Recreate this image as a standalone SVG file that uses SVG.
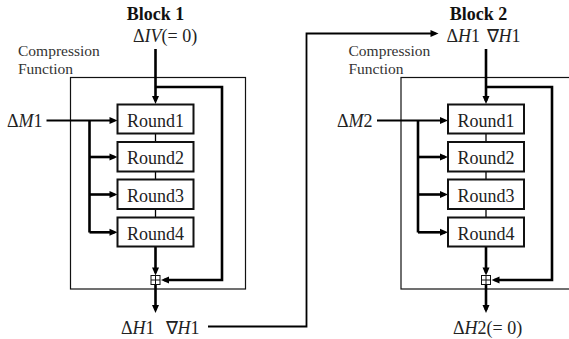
<svg xmlns="http://www.w3.org/2000/svg" width="569" height="339" viewBox="0 0 569 339">
<defs>
<marker id="ah" markerUnits="userSpaceOnUse" markerWidth="8" markerHeight="7" refX="5" refY="3.5" orient="auto" overflow="visible">
<path d="M0,0 L8,3.5 L0,7 z" fill="#000"/>
</marker>
</defs>
<style>
.t{font-size:18px;fill:#222;}
.b{font-size:18px;font-weight:bold;fill:#111;}
.cf{font-size:15.5px;fill:#333;}
.rt{font-size:18px;text-anchor:middle;fill:#222;}
.i{font-style:italic;}
.ob{fill:none;stroke:#111;stroke-width:1.2;}
.rb{fill:#fff;stroke:#111;stroke-width:2;}
.thick{fill:none;stroke:#000;stroke-width:2.6;}
.mid{fill:none;stroke:#000;stroke-width:1.8;}
.thin{fill:none;stroke:#000;stroke-width:1.3;}
.arr{marker-end:url(#ah);}
.add{fill:#fff;stroke:#111;stroke-width:1;}
</style>

<g id="labels" font-family="'Liberation Serif', 'Times New Roman', serif">
<text class="b" x="155.5" y="20" text-anchor="middle">Block 1</text>
<text class="t" x="133" y="42">Δ<tspan class="i">IV</tspan>(= 0)</text>
<text class="cf" x="18" y="56">Compression</text>
<text class="cf" x="18" y="74">Function</text>
<text class="t" x="7" y="127">Δ<tspan class="i">M</tspan>1</text>
<text class="t" x="121" y="334">Δ<tspan class="i">H</tspan>1</text>
<text class="t" x="165.5" y="334">∇<tspan class="i">H</tspan>1</text>

<text class="b" x="478.5" y="20" text-anchor="middle">Block 2</text>
<text class="t" x="446.5" y="42">Δ<tspan class="i">H</tspan>1</text>
<text class="t" x="486.5" y="42">∇<tspan class="i">H</tspan>1</text>
<text class="cf" x="348.5" y="56">Compression</text>
<text class="cf" x="348.5" y="74">Function</text>
<text class="t" x="337" y="127">Δ<tspan class="i">M</tspan>2</text>
<text class="t" x="453" y="334">Δ<tspan class="i">H</tspan>2(= 0)</text>
</g>

<g id="cf1">
<rect class="ob" x="70.5" y="77.5" width="175" height="211.5"/>
</g>
<g id="cf2">
<rect class="ob" x="401" y="77.5" width="175" height="211.5"/>
</g>

<g id="connectors">
<line class="thick arr" x1="155.5" y1="49" x2="155.5" y2="101"/>
<polyline class="thick arr" points="155.5,87 222,87 222,280 164,280"/>
<line class="thin" x1="155.5" y1="133.5" x2="155.5" y2="142"/>
<line class="thin" x1="155.5" y1="171.5" x2="155.5" y2="179.5"/>
<line class="thin" x1="155.5" y1="209" x2="155.5" y2="217.5"/>
<line class="thick arr" x1="155.5" y1="246.5" x2="155.5" y2="272.5"/>
<line class="thick arr" x1="155.5" y1="284.5" x2="155.5" y2="310"/>
<line class="mid arr" x1="46.5" y1="120.5" x2="114.5" y2="120.5"/>
<polyline class="thick" points="89.5,120.5 89.5,232.5"/>
<line class="thick arr" x1="89.5" y1="157" x2="114.5" y2="157"/>
<line class="thick arr" x1="89.5" y1="194.5" x2="114.5" y2="194.5"/>
<line class="thick arr" x1="89.5" y1="232.3" x2="114.5" y2="232.3"/>
<polyline class="mid arr" points="208,326.5 306.5,326.5 306.5,33.5 435.5,33.5"/>
<line class="thick arr" x1="486" y1="49" x2="486" y2="101"/>
<polyline class="thick arr" points="486,87 552,87 552,280 494.5,280"/>
<line class="thin" x1="486" y1="133.5" x2="486" y2="142"/>
<line class="thin" x1="486" y1="171.5" x2="486" y2="179.5"/>
<line class="thin" x1="486" y1="209" x2="486" y2="217.5"/>
<line class="thick arr" x1="486" y1="246.5" x2="486" y2="272.5"/>
<line class="thick arr" x1="486" y1="284.5" x2="486" y2="310"/>
<line class="mid arr" x1="377" y1="120.5" x2="445" y2="120.5"/>
<polyline class="thick" points="418,120.5 418,232.5"/>
<line class="thick arr" x1="418" y1="157" x2="445" y2="157"/>
<line class="thick arr" x1="418" y1="194.5" x2="445" y2="194.5"/>
<line class="thick arr" x1="418" y1="232.3" x2="445" y2="232.3"/>
</g>

<g font-family="'Liberation Serif', 'Times New Roman', serif">
<g id="b1-round1"><rect class="rb" x="117.5" y="104.5" width="76" height="29"/><text class="rt" x="155.5" y="126.5">Round1</text></g>
<g id="b1-round2"><rect class="rb" x="117.5" y="142" width="76" height="29.5"/><text class="rt" x="155.5" y="164">Round2</text></g>
<g id="b1-round3"><rect class="rb" x="117.5" y="179.5" width="76" height="29.5"/><text class="rt" x="155.5" y="201.5">Round3</text></g>
<g id="b1-round4"><rect class="rb" x="117.5" y="217.5" width="76" height="29"/><text class="rt" x="155.5" y="239.5">Round4</text></g>
<g id="b1-adder"><rect class="add" x="151" y="275.5" width="9" height="9"/><path class="add" d="M155.5,275.5 V284.5 M151,280 H160"/></g>

<g id="b2-round1"><rect class="rb" x="448" y="104.5" width="76" height="29"/><text class="rt" x="486" y="126.5">Round1</text></g>
<g id="b2-round2"><rect class="rb" x="448" y="142" width="76" height="29.5"/><text class="rt" x="486" y="164">Round2</text></g>
<g id="b2-round3"><rect class="rb" x="448" y="179.5" width="76" height="29.5"/><text class="rt" x="486" y="201.5">Round3</text></g>
<g id="b2-round4"><rect class="rb" x="448" y="217.5" width="76" height="29"/><text class="rt" x="486" y="239.5">Round4</text></g>
<g id="b2-adder"><rect class="add" x="481.5" y="275.5" width="9" height="9"/><path class="add" d="M486,275.5 V284.5 M481.5,280 H490.5"/></g>
</g>
</svg>
